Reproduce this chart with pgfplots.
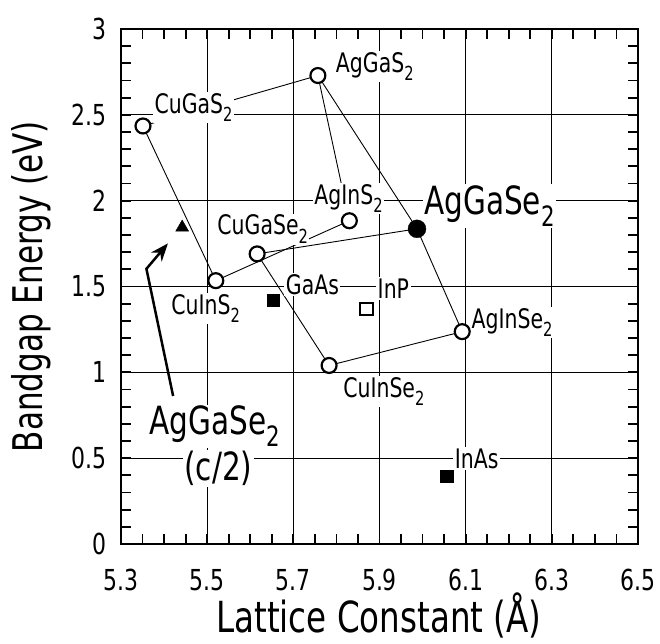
\documentclass[border=0pt]{standalone}
\usepackage{fontspec}
\setmainfont{DejaVu Sans}[FakeStretch=0.76]
\usepackage{pgfplots}
\pgfplotsset{compat=1.18}
\usetikzlibrary{arrows.meta}
\newcommand{\sub}[1]{\raisebox{-0.3em}{\scalebox{0.72}{#1}}}
\begin{document}
\begin{tikzpicture}
\tikzset{
  lbl/.style={fill=white, inner sep=1.5pt, font=\fontsize{27}{27}\selectfont},
  big/.style={fill=white, inner sep=1.5pt, font=\fontsize{39}{39}\selectfont},
  tk/.style={black, line width=1.8pt},
}
\begin{axis}[name=ax, scale only axis, width=517bp, height=515bp,
  xmin=5.3, xmax=6.5, ymin=0, ymax=3,
  xtick={5.3,5.5,5.7,5.9,6.1,6.3,6.5}, ytick={0,0.5,1,1.5,2,2.5,3},
  xmajorgrids, ymajorgrids, major grid style={black, line width=0.9pt},
  tick align=inside,
  major tick length=10pt,
  every tick/.append style={black, line width=1.8pt},
  axis line style={line width=2.8pt},
  /pgf/number format/assume math mode=true,
  xticklabel style={font=\fontsize{29}{29}\selectfont, anchor=base, inner sep=0pt, yshift=-46bp},
  xticklabel={\pgfmathprintnumber[fixed, fixed zerofill, precision=1]{\tick}},
  yticklabel style={font=\fontsize{29}{29}\selectfont, anchor=east, inner sep=0pt, xshift=-14bp},
  xlabel={Lattice Constant (Å)}, ylabel={Bandgap Energy (eV)},
  xlabel style={font=\fontsize{43}{43}\selectfont, at={(axis description cs:0.499,-0.172)}, anchor=base},
  ylabel style={font=\fontsize{41}{41}\selectfont, at={(axis description cs:-0.1528,0.5)}, anchor=base},
  clip=false,
]
% minor tick marks, drawn in axis coordinates on all four sides
\pgfplotsinvokeforeach{5.35,5.4,5.45,5.55,5.6,5.65,5.75,5.8,5.85,5.95,6.0,6.05,6.15,6.2,6.25,6.35,6.4,6.45}{
  \draw[tk] (axis cs:#1,0) -- (axis cs:#1,0.058);
  \draw[tk] (axis cs:#1,3) -- (axis cs:#1,2.942);
}
\pgfplotsinvokeforeach{0.1,0.2,0.3,0.4,0.6,0.7,0.8,0.9,1.1,1.2,1.3,1.4,1.6,1.7,1.8,1.9,2.1,2.2,2.3,2.4,2.6,2.7,2.8,2.9}{
  \draw[tk] (axis cs:5.3,#1) -- (axis cs:5.3232,#1);
  \draw[tk] (axis cs:6.5,#1) -- (axis cs:6.4768,#1);
}
% heavy frame
\draw[black, line width=2.8pt] (rel axis cs:0,0) rectangle (rel axis cs:1,1);
% sulfide quadrilateral
\addplot[black, line width=0.9pt] coordinates {(5.351,2.435) (5.757,2.729) (5.83,1.883) (5.52,1.534) (5.351,2.435)};
% selenide quadrilateral
\addplot[black, line width=0.9pt] coordinates {(5.616,1.69) (5.987,1.836) (6.092,1.237) (5.783,1.04) (5.616,1.69)};
% AgGaS2 - AgGaSe2
\addplot[black, line width=0.9pt] coordinates {(5.757,2.729) (5.987,1.836)};
% arrow
\addplot[black, line width=2.5pt, -{Stealth[length=18pt,width=14pt]}] coordinates {(5.421,0.862) (5.359,1.603) (5.409,1.751)};
% markers
\addplot[only marks, mark=*, mark size=7.5pt, mark options={fill=white, draw=black, line width=2.2pt}] coordinates {(5.351,2.435) (5.757,2.729) (5.83,1.883) (5.52,1.534) (5.616,1.69) (6.092,1.237) (5.783,1.04)};
\addplot[only marks, mark=*, mark size=9pt, mark options={fill=black, draw=black}] coordinates {(5.987,1.836)};
\addplot[only marks, mark=square*, mark size=6.3pt, mark options={fill=black, draw=black}] coordinates {(5.653,1.42) (6.056,0.396)};
\addplot[only marks, mark=square, mark size=6.3pt, mark options={draw=black, line width=2pt}] coordinates {(5.87,1.37)};
\addplot[only marks, mark=triangle*, mark size=7.5pt, mark options={fill=black, draw=black}] coordinates {(5.442,1.844)};
% labels
\node[lbl, anchor=base west] at (axis cs:5.374,2.51) {CuGaS\sub{2}};
\node[lbl, anchor=base west] at (axis cs:5.795,2.745) {AgGaS\sub{2}};
\node[lbl, anchor=base west] at (axis cs:5.745,1.98) {AgInS\sub{2}};
\node[big, anchor=base west] at (axis cs:6.0,1.92) {AgGaSe\sub{2}};
\node[lbl, anchor=base west] at (axis cs:5.52,1.80) {CuGaSe\sub{2}};
\node[lbl, anchor=base west] at (axis cs:5.413,1.336) {CuInS\sub{2}};
\node[lbl, anchor=base west] at (axis cs:5.679,1.455) {GaAs};
\node[lbl, anchor=base west] at (axis cs:5.892,1.43) {InP};
\node[lbl, anchor=base west] at (axis cs:6.11,1.257) {AgInSe\sub{2}};
\node[lbl, anchor=base west] at (axis cs:5.812,0.852) {CuInSe\sub{2}};
\node[lbl, anchor=base west] at (axis cs:6.071,0.44) {InAs};
\node[big, anchor=base west] at (axis cs:5.362,0.635) {AgGaSe\sub{2}};
\node[big, anchor=base] at (axis cs:5.526,0.37) {(c/2)};
\end{axis}
\pgfresetboundingbox
\path[use as bounding box] ([shift={(-121bp,-100bp)}]ax.south west) rectangle ([shift={(22bp,29bp)}]ax.north east);
\end{tikzpicture}
\end{document}
